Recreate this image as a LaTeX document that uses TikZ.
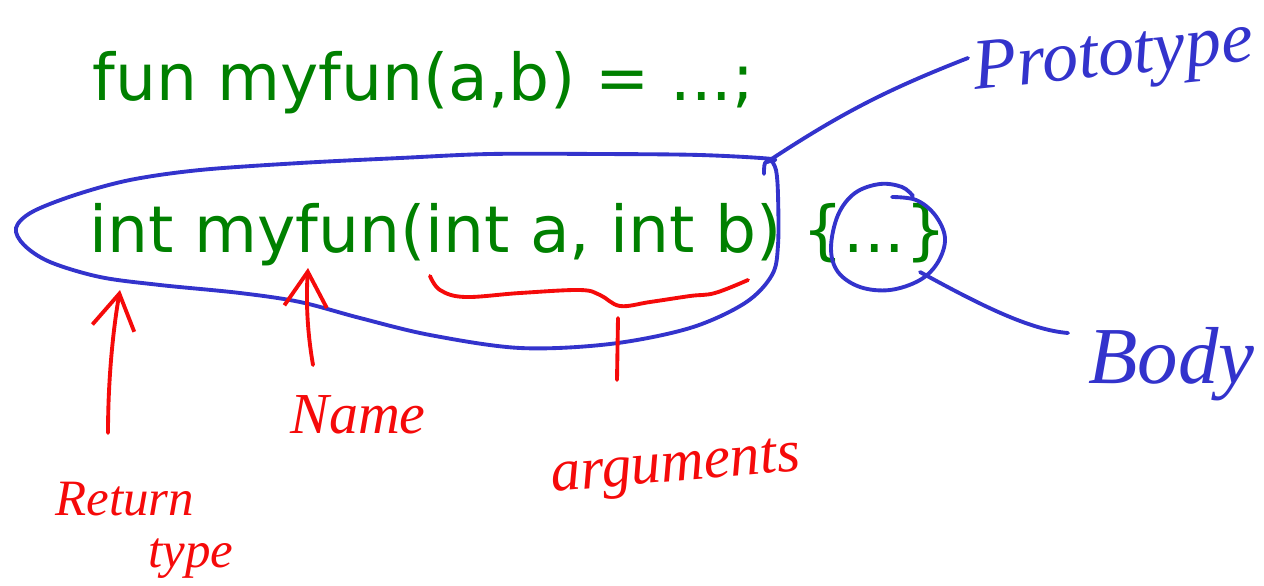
\documentclass[tikz,border=0pt]{standalone}
\usepackage{fontspec}
\usepackage{xcolor}
\usetikzlibrary{arrows.meta,positioning,calc}
\newfontfamily\codefont{DejaVu Sans}
\newfontfamily\handfont{Liberation Serif}
\definecolor{codegreen}{RGB}{0,128,0}
\definecolor{inkblue}{RGB}{51,51,204}
\definecolor{inkred}{RGB}{245,10,10}
\tikzset{
  code/.style    ={text=codegreen,inner sep=0pt,anchor=base west,
                   font=\codefont\fontsize{36.8}{40}\selectfont},
  hand/.style    ={inner sep=0pt,anchor=base west,font=\handfont\itshape},
  bluehand/.style={hand,text=inkblue},
  redhand/.style ={hand,text=inkred},
  blueink/.style ={draw=inkblue,line width=2.2pt,line cap=round,line join=round},
  redink/.style  ={draw=inkred,line width=2.2pt,line cap=round,line join=round},
  barb/.style    ={-{Straight Barb[length=7mm,width=8.5mm,line width=2.2pt]}},
}
\begin{document}
\begin{tikzpicture}[x=0.02cm,y=-0.02cm]
  \useasboundingbox (0,0) rectangle (1264,585);
  % the two code lines
  \node[code] (def) at (92,100) {fun myfun(a,b) = ...;};
  \node[code] (sig) at (89,252) {int myfun(int a, int b) \{...\}};
  % handwritten labels
  \node[bluehand,font=\handfont\itshape\fontsize{41}{44}\selectfont,rotate=6] (proto) at (975,90) {Prototype};
  \node[bluehand,font=\handfont\itshape\fontsize{46}{50}\selectfont] (body) at (1088,383) {Body};
  \node[redhand,font=\handfont\itshape\fontsize{33}{36}\selectfont] (name) at (290,433) {Name};
  \node[redhand,font=\handfont\itshape\fontsize{29}{32}\selectfont] (ret) at (55,515) {Return};
  \node[redhand,font=\handfont\itshape\fontsize{29}{32}\selectfont] (rettype) at (148,567) {type};
  \node[redhand,font=\handfont\itshape\fontsize{34}{38}\selectfont,rotate=5] (args) at (552,492) {arguments};
  % free ends of the connectors
  \coordinate (loophook) at (767,162);
  \coordinate (protoend) at (968,58);
  \coordinate (bodyring) at (920,272);
  \coordinate (bodyend) at (1068,333);
  \coordinate (retfoot) at (108,433);
  \coordinate (rettip) at (120,290);
  \coordinate (namefoot) at (313,365);
  \coordinate (nametip) at (308,268);
  \coordinate (bracetip) at (618,318);
  \coordinate (argtick) at (617,380);
  % loop round the prototype
  \draw[blueink] plot[smooth,tension=0.55] coordinates {
    (764,174) (765,163) (772,159) (700,155) (600,154) (490,154) (400,158)
    (300,163) (200,170) (130,180) (75,195) (32,212) (16,228) (24,245)
    (50,262) (100,277) (160,285) (240,293) (300,302) (360,318) (430,335)
    (520,348) (610,344) (690,328) (745,303) (772,275) (778,245) (778,195)
    (776,170) (771,160)};
  % ring round the body
  \draw[blueink] plot[smooth,tension=0.6] coordinates {
    (892,197) (916,200) (935,215) (945,238) (938,262) (920,280) (890,290)
    (860,287) (838,272) (831,248) (838,215) (855,193) (880,184) (902,187)
    (913,196)};
  \draw[blueink] (loophook) to[bend left=6] (protoend);
  \draw[blueink] (bodyring) .. controls (980,305) and (1030,330) .. (bodyend);
  % red arrows and brace
  \draw[redink,barb] (retfoot) .. controls (108,380) and (113,330) .. (rettip);
  \draw[redink,barb] (namefoot) .. controls (307,330) and (306,300) .. (nametip);
  \draw[redink] plot[smooth,tension=0.6] coordinates {
    (430,276) (440,290) (465,297) (520,293) (580,290) (600,295) (620,306)
    (650,302) (690,296) (715,293) (748,280)};
  \draw[redink] (bracetip) -- (argtick);
\end{tikzpicture}
\end{document}
